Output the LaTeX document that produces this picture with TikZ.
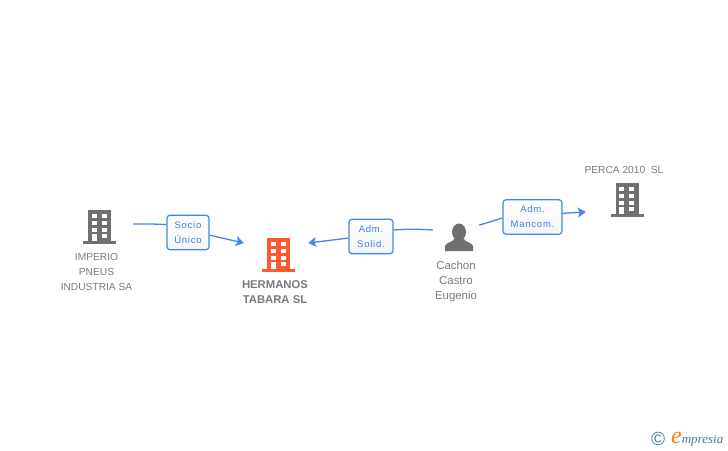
\documentclass[tikz,border=0pt]{standalone}
\usepackage{fontspec}
\setmainfont{Liberation Sans}
\newfontfamily\badgefont[LetterSpace=8]{Liberation Sans}
\newfontfamily\logofont{Liberation Serif}
\usetikzlibrary{arrows.meta}
\definecolor{linkblue}{HTML}{4585E6}
\definecolor{badgeblue}{HTML}{3B7DE0}
\definecolor{textgray}{HTML}{7A7A7A}
\definecolor{icongray}{HTML}{707070}
\definecolor{mainorange}{HTML}{FF5A2C}
\definecolor{logoteal}{HTML}{3F7F93}
\tikzset{
    pics/building/.style={code={
        \fill[#1] (-11.5,-34) rectangle (11.5,-3);
        \fill[#1] (-16.5,-3) rectangle (16.5,0);
        \foreach \rowy in {-30,-23,-16} {
            \fill[white] (-8,\rowy) rectangle (-3,\rowy+4);
            \fill[white] (2,\rowy) rectangle (7,\rowy+4);
        }
        \fill[white] (2,-10) rectangle (7,-6);
        \fill[white] (-8,-10) rectangle (-3,-3);
    }},
    anchorbox/.style={minimum width=#1, minimum height=30pt, inner sep=0pt},
    label/.style={font=\fontsize{10.2}{15}\selectfont, text=textgray, align=center, inner sep=0pt},
    badge/.style={draw=linkblue, line width=1.2pt, rounded corners=3pt, top color=white, bottom color=white!96!black,
        text=badgeblue, font=\badgefont\fontsize{9.5}{15}\selectfont, align=center, inner sep=0pt, minimum height=34.5pt},
    link/.style={linkblue, line width=1.3pt},
    linkarrow/.style={link, -{Stealth[length=8pt, width=10pt, inset=2pt]}}
}
\begin{document}
\begin{tikzpicture}[x=1pt, y=-1pt]
    \useasboundingbox (0,0) rectangle (728,450);

    % Iconos
    \pic at (99.5,244) {building=icongray};
    \pic at (278.5,272) {building=mainorange};
    \pic at (627,217) {building=icongray};
    \fill[icongray] (459,232) ellipse (7 and 8.5);
    \fill[icongray] (445,251) -- (445,246) .. controls (445.5,242.5) and (453,242.5) .. (455,238)
        -- (463,238) .. controls (465,242.5) and (472.5,242.5) .. (473,246) -- (473,251) -- cycle;

    % Zonas de anclaje
    \node[anchorbox=67pt] (imperio) at (99.5,224) {};
    \node[anchorbox=64pt] (hermanos) at (276,243) {};
    \node[anchorbox=46pt] (cachon) at (456,228) {};
    \node[anchorbox=82pt] (perca) at (627,212) {};

    % Textos
    \node[label] (imperiotext) at (96.5,272) {IMPERIO\\PNEUS\\INDUSTRIA SA};
    \node[label, font=\bfseries\fontsize{11.3}{15}\selectfont] (hermanostext) at (275,292.5) {HERMANOS\\TABARA SL};
    \node[label, font=\fontsize{11.4}{15}\selectfont] (cachontext) at (456,281.5) {Cachon\\Castro\\Eugenio};
    \node[label] (percatext) at (624,170) {PERCA 2010\ \ SL};

    % Relaciones
    \node[badge, minimum width=42pt] (socio) at (188,232.5) {Socio\\Único};
    \node[badge, minimum width=44pt] (solid) at (371,236.5) {Adm.\\Solid.};
    \node[badge, minimum width=59pt] (mancom) at (532.5,217) {Adm.\\Mancom.};

    % Conectores
    \draw[link] (imperio.east) to[bend left=2] (socio.160);
    \draw[linkarrow] (socio.-7) -- (hermanos.west);
    \draw[link] (cachon.185) to[bend right=4] (solid.16);
    \draw[linkarrow] (solid.184) -- (hermanos.east);
    \draw[link] (cachon.7) -- (mancom.182);
    \draw[linkarrow] (mancom.7) -- (perca.west);

    % Logo
    \node[font=\fontsize{19}{19}\selectfont, text=logoteal, inner sep=0pt] (copyright) at (658,438.5) {©};
    \node[font=\logofont\itshape\fontsize{13}{13}\selectfont, text=logoteal, inner sep=0pt, anchor=base west] (logo) at (671,443)
        {\textcolor{orange}{\fontsize{24}{24}\selectfont e}mpresia};
\end{tikzpicture}
\end{document}
